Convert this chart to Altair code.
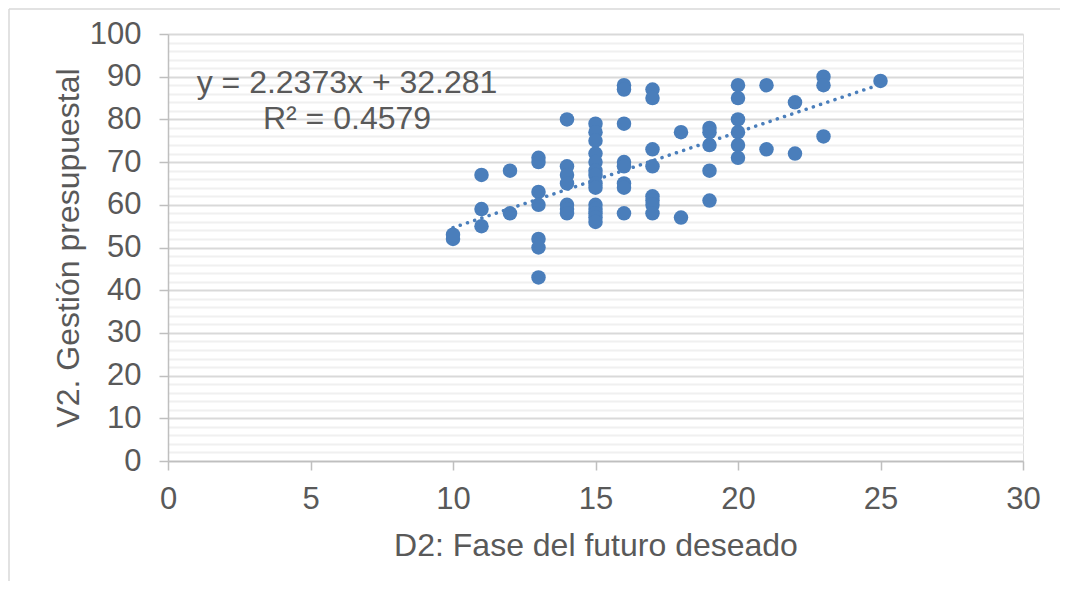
import altair as alt
import pandas as pd

# D2: Fase del futuro deseado (x) and V2. Gestión presupuestal (y)
d2 = [10, 10,
      11, 11, 11,
      12, 12,
      13, 13, 13, 13, 13, 13, 13,
      14, 14, 14, 14, 14, 14, 14,
      15, 15, 15, 15, 15, 15, 15, 15, 15, 15, 15, 15, 15, 15,
      16, 16, 16, 16, 16, 16, 16, 16,
      17, 17, 17, 17, 17, 17, 17, 17,
      18, 18,
      19, 19, 19, 19, 19,
      20, 20, 20, 20, 20, 20,
      21, 21,
      22, 22,
      23, 23, 23,
      25]
v2 = [52, 53,
      67, 59, 55,
      68, 58,
      71, 70, 63, 60, 52, 50, 43,
      80, 69, 67, 65, 60, 59, 58,
      79, 77, 75, 72, 70, 68, 67, 65, 64, 60, 59, 58, 57, 56,
      88, 87, 79, 70, 69, 65, 64, 58,
      87, 85, 73, 69, 62, 61, 60, 58,
      77, 57,
      78, 77, 74, 68, 61,
      88, 85, 80, 77, 74, 71,
      88, 73,
      84, 72,
      90, 88, 76,
      89]

# linear trendline (as displayed) endpoints
trend_x = [10, 25]
trend_y = [54.65, 88.21]

eq_lines = ["y = 2.2373x + 32.281", "R² = 0.4579"]

x_ticks = [0, 5, 10, 15, 20, 25, 30]
y_ticks = list(range(0, 101, 2))

FONT = "Liberation Sans"
TXT = "#595959"
BLUE = "#4A7EBB"
FS = 31
FT = 32

pts = pd.DataFrame({"d2": d2, "v2": v2})
trend = pd.DataFrame({"d2": trend_x, "v2": trend_y})

x_axis = alt.Axis(values=x_ticks, grid=False, title="D2: Fase del futuro deseado",
                  tickSize=9, tickColor="#bfbfbf", tickWidth=1.5,
                  domainColor="#bfbfbf", domainWidth=1.5,
                  labelFontSize=FS, labelColor=TXT, labelFont=FONT, labelPadding=14,
                  labelFlush=False, labelOverlap=False,
                  titleFontSize=FT, titleColor=TXT, titleFont=FONT, titleFontWeight="normal",
                  titleX=427.5, titleY=84, titleBaseline="middle", titleAlign="center")
y_axis = alt.Axis(values=y_ticks, title="V2. Gestión presupuestal",
                  labelExpr="datum.value % 10 === 0 ? datum.label : ''",
                  grid=True,
                  gridColor={"condition": {"test": "datum.value % 10 === 0", "value": "#d9d9d9"},
                             "value": "#f0f0f0"},
                  gridWidth=1.8,
                  tickSize=9,
                  tickColor={"condition": {"test": "datum.value % 10 === 0", "value": "#bfbfbf"},
                             "value": "transparent"},
                  tickWidth=1.5,
                  domainColor="#bfbfbf", domainWidth=1.5,
                  labelFontSize=FS, labelColor=TXT, labelFont=FONT, labelPadding=18,
                  labelFlush=False, labelOverlap=False, tickCount=51,
                  titleFontSize=FT, titleColor=TXT, titleFont=FONT, titleFontWeight="normal",
                  titleX=-100, titleY=213.5, titleAngle=-90, titleBaseline="middle",
                  titleAlign="center")

xs = alt.Scale(domain=[0, 30], nice=False, zero=True)
ys = alt.Scale(domain=[0, 100], nice=False, zero=True)

points = alt.Chart(pts).mark_circle(size=210, opacity=1, color=BLUE).encode(
    x=alt.X("d2:Q", scale=xs, axis=x_axis),
    y=alt.Y("v2:Q", scale=ys, axis=y_axis),
)

line = alt.Chart(trend).mark_line(color=BLUE, strokeWidth=3.5, strokeDash=[0.1, 7.5],
                                   strokeCap="round").encode(
    x=alt.X("d2:Q", scale=xs),
    y=alt.Y("v2:Q", scale=ys),
)

eq1 = alt.Chart(pd.DataFrame({"t": [eq_lines[0]]})).mark_text(
    font=FONT, fontSize=FT, color=TXT, align="center", baseline="alphabetic"
).encode(text="t:N", x=alt.value(179), y=alt.value(59))
eq2 = alt.Chart(pd.DataFrame({"t": [eq_lines[1]]})).mark_text(
    font=FONT, fontSize=FT, color=TXT, align="center", baseline="alphabetic"
).encode(text="t:N", x=alt.value(179), y=alt.value(95))

# outer chart-area frame (only its top and left edges fall inside the picture)
border_df = pd.DataFrame({"a": [0]})
border_top = alt.Chart(border_df).mark_rule(color="#d9d9d9", strokeWidth=1.5, clip=False).encode(
    x=alt.value(-159), x2=alt.value(920), y=alt.value(-25))
border_left = alt.Chart(border_df).mark_rule(color="#d9d9d9", strokeWidth=1.5, clip=False).encode(
    x=alt.value(-159), y=alt.value(-25), y2=alt.value(600))

chart = alt.layer(border_top, border_left, line, points, eq1, eq2).properties(
    width=855, height=427,
    autosize=alt.AutoSizeParams(type="none"),
    padding={"left": 160, "top": 26, "right": 37, "bottom": 120},
).configure_view(stroke=None).configure(background="white")

chart.save("out.html", embed_options={"renderer": "svg", "actions": False})
